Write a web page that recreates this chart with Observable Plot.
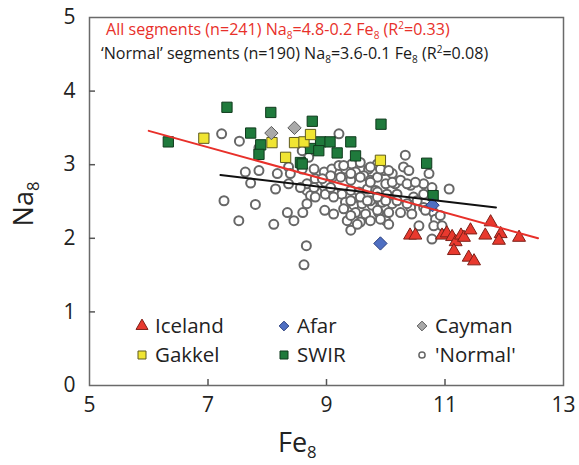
<!DOCTYPE html>
<html><head><meta charset="utf-8">
<script src="https://cdn.jsdelivr.net/npm/d3@7"></script>
<script src="https://cdn.jsdelivr.net/npm/@observablehq/plot@0.6"></script>
<style>
body{margin:0;background:#fff;}
#chart{width:579px;height:465px;}
</style></head><body><div id="chart"></div>
<script>
// ---- data ----
const icelandFe = [10.41,10.50,10.95,11.03,11.12,11.18,11.27,11.32,11.43,11.68,11.77,11.94,11.91,12.25,11.40,11.49,11.15];
const icelandNa = [2.04,2.04,2.04,2.07,2.02,1.95,2.04,2.01,2.11,2.04,2.22,2.06,1.97,2.01,1.74,1.69,1.83];
const afarFe = [9.91,10.79];
const afarNa = [1.93,2.45];
const caymanFe = [8.07,8.46];
const caymanNa = [3.43,3.50];
const gakkelFe = [6.93,8.08,8.46,8.62,8.73,8.31,9.91];
const gakkelNa = [3.36,3.30,3.30,3.31,3.41,3.10,3.06];
const swirFe = [6.33,7.32,8.06,7.72,8.76,7.89,7.86,8.56,8.90,9.06,8.73,8.87,9.18,9.92,9.41,9.49,10.69,10.80,8.59];
const swirNa = [3.31,3.78,3.71,3.43,3.59,3.27,3.14,3.03,3.31,3.31,3.22,3.19,3.16,3.55,3.31,3.12,3.02,2.58,3.01];
const normalFe = [7.23,7.53,7.63,7.86,7.72,7.27,7.80,7.52,8.11,8.34,8.45,8.60,8.97,8.66,8.62,8.14,8.36,8.17,8.36,8.39,
  7.86,9.21,8.59,8.70,8.59,8.79,8.96,9.09,9.21,9.32,9.43,9.57,9.71,9.86,9.49,9.63,9.10,9.24,8.81,8.98,
  9.41,9.74,9.86,8.67,8.73,8.84,8.98,9.12,9.26,9.41,9.55,9.69,9.83,9.32,9.46,9.60,9.77,9.49,9.66,9.35,
  9.57,9.74,9.41,10.33,10.30,10.39,9.97,10.11,9.74,10.00,10.16,10.42,10.64,10.73,11.07,9.86,10.02,10.19,10.47,10.64,
  9.74,9.94,10.11,10.42,10.64,10.81,9.88,10.44,10.56,10.84,10.81,10.00,10.78,8.67,8.79,9.07,8.81,9.12,9.74,9.91,
  10.05,9.29,8.56,9.57,9.41,9.07,8.93,10.11,10.25,10.36,10.50,10.78,8.67,9.12,9.29,9.41,9.57,9.69,9.86,10.00,
  10.19,10.36,10.53,10.67,10.92,10.95,10.25,10.05,9.91,9.52,10.05,9.86,9.41];
const normalNa = [3.42,3.32,2.90,2.92,2.75,2.51,2.46,2.24,2.19,2.35,2.24,2.35,2.38,1.90,1.64,2.67,2.74,2.88,2.97,2.88,
  3.23,3.42,3.19,3.10,2.94,2.94,2.90,2.94,2.99,2.94,3.01,3.03,2.94,3.01,2.90,2.85,2.83,2.83,2.81,2.76,
  2.79,2.79,2.83,2.65,2.58,2.63,2.60,2.63,2.60,2.65,2.63,2.67,2.65,2.49,2.45,2.47,2.45,2.35,2.33,2.24,
  2.22,2.24,2.11,3.13,2.97,2.92,2.92,2.88,2.76,2.74,2.74,2.72,2.74,2.88,2.67,2.63,2.60,2.60,2.56,2.60,
  2.51,2.49,2.47,2.42,2.42,2.35,2.35,2.33,2.17,2.26,2.17,2.24,1.99,2.74,2.69,2.69,2.56,2.56,2.97,2.94,
  2.92,2.99,2.69,2.83,2.88,2.85,2.81,2.76,2.79,2.74,2.76,2.69,2.47,2.33,2.40,2.51,2.56,2.51,2.56,2.51,
  2.51,2.47,2.51,2.38,2.31,2.17,2.35,2.35,2.26,2.19,2.19,2.38,2.31];
// regression line end points
const allLineFe = [6.0, 12.57];
const allLineNa = [3.46, 2.0];
const normalLineFe = [7.21, 11.86];
const normalLineNa = [2.86, 2.42];
// axis ticks
const xTickLabels = [5,7,9,11,13];
const xTickMarks = [7,9,11];
const yTickLabels = [0,1,2,3,4,5];
const yTickMarks = [1,2,3,4];
const legendNames = ["Iceland","Afar","Cayman","Gakkel","SWIR","'Normal'"];

const rows = (fe, na) => fe.map((v, i) => ({fe: v, na: na[i]}));

const C = {
  iceland: {fill:"#e8392e", stroke:"#7d1f17"},
  afar: {fill:"#4f6fc2", stroke:"#2b3f7e"},
  cayman: {fill:"#a9a9a9", stroke:"#5a5a5a"},
  gakkel: {fill:"#f0e532", stroke:"#5e5a1e"},
  swir: {fill:"#1f7a3c", stroke:"#0f3a1c"},
  normal: {fill:"#ffffff", stroke:"#676767"}
};
const FONT = "'Open Sans', sans-serif";
const W = 579, H = 465, ML = 89, MR = 16, MT = 17, MB = 80;
const TICK = 6;

const plot = Plot.plot({
  width: W, height: H,
  marginLeft: ML, marginRight: MR, marginTop: MT, marginBottom: MB,
  style: {fontFamily: FONT, background: "#fff", color: "#222"},
  x: {domain: [5, 13], label: null},
  y: {domain: [0, 5], label: null},
  marks: [
    Plot.frame({stroke: "#6a6a6a", strokeWidth: 1.5}),
    Plot.axisX(xTickLabels, {tickSize: 0, tickPadding: 12, fontSize: 21, label: null, fill: "#222", tickFormat: d => String(d)}),
    Plot.axisY(yTickLabels, {tickSize: 0, tickPadding: 14, fontSize: 21, label: null, fill: "#222", tickFormat: d => String(d)}),
    Plot.tickX(xTickMarks, {x: d => d, insetTop: H - MT - MB - TICK, stroke: "#555", strokeWidth: 1.5}),
    Plot.tickY(yTickMarks, {y: d => d, insetRight: W - ML - MR - TICK, stroke: "#555", strokeWidth: 1.5}),
    Plot.dot(rows(normalFe, normalNa), {x: "fe", y: "na", r: 4.5, fill: C.normal.fill, stroke: C.normal.stroke, strokeWidth: 2}),
    Plot.dot(rows(swirFe, swirNa), {x: "fe", y: "na", symbol: "square", r: 5.8, fill: C.swir.fill, stroke: C.swir.stroke, strokeWidth: 1}),
    Plot.dot(rows(gakkelFe, gakkelNa), {x: "fe", y: "na", symbol: "square", r: 5.8, fill: C.gakkel.fill, stroke: C.gakkel.stroke, strokeWidth: 1}),
    Plot.dot(rows(caymanFe, caymanNa), {x: "fe", y: "na", symbol: "diamond2", r: 6, fill: C.cayman.fill, stroke: C.cayman.stroke, strokeWidth: 1}),
    Plot.dot(rows(afarFe, afarNa), {x: "fe", y: "na", symbol: "diamond2", r: 6, fill: C.afar.fill, stroke: C.afar.stroke, strokeWidth: 1}),
    Plot.dot(rows(icelandFe, icelandNa), {x: "fe", y: "na", symbol: "triangle", r: 4.8, fill: C.iceland.fill, stroke: C.iceland.stroke, strokeWidth: 1}),
    Plot.line(rows(normalLineFe, normalLineNa), {x: "fe", y: "na", stroke: "#111", strokeWidth: 2}),
    Plot.line(rows(allLineFe, allLineNa), {x: "fe", y: "na", stroke: "#e8302a", strokeWidth: 2})
  ]
});
document.getElementById("chart").appendChild(plot);

const svg = d3.select(plot);

function rich(sel, parts, size, subK = 0.3) {
  let shift = 0;
  parts.forEach(([t, k]) => {
    const target = k === "sub" ? size * subK : k === "sup" ? -size * 0.38 : 0;
    const ts = sel.append("tspan").attr("dy", (target - shift).toFixed(2)).text(t);
    if (k) ts.attr("font-size", (size * 0.62).toFixed(1));
    shift = target;
  });
}

// annotation lines
const AF = 16.1;
const ann1 = svg.append("text").attr("x", 106).attr("y", 35).attr("font-size", AF)
  .attr("text-anchor", "start").attr("fill", "#e8302a").attr("font-family", FONT);
rich(ann1, [["All segments (n=241) Na"], ["8","sub"], ["=4.8-0.2 Fe"], ["8","sub"], [" (R"], ["2","sup"], ["=0.33)"]], AF, 0.26);
const ann2 = svg.append("text").attr("x", 101).attr("y", 59).attr("font-size", AF)
  .attr("text-anchor", "start").attr("fill", "#1a1a1a").attr("font-family", FONT);
rich(ann2, [["\u2018Normal\u2019 segments (n=190) Na"], ["8","sub"], ["=3.6-0.1 Fe"], ["8","sub"], [" (R"], ["2","sup"], ["=0.08)"]], AF, 0.26);

// axis titles
const xt = svg.append("text").attr("x", 278).attr("y", 452).attr("font-size", 27)
  .attr("text-anchor", "start").attr("fill", "#222").attr("font-family", FONT);
rich(xt, [["Fe"], ["8","sub"]], 27, 0.22);
const yt = svg.append("text").attr("transform", "translate(33,204) rotate(-90)").attr("text-anchor", "middle")
  .attr("font-size", 27).attr("fill", "#222").attr("font-family", FONT);
rich(yt, [["Na"], ["8","sub"]], 27, 0.22);

// legend
const legendStyle = [
  {sym: d3.symbolTriangle, size: 62, c: C.iceland, sw: 1},
  {sym: d3.symbolDiamond2, size: 60, c: C.afar, sw: 1},
  {sym: d3.symbolDiamond2, size: 60, c: C.cayman, sw: 1},
  {sym: d3.symbolSquare, size: 64, c: C.gakkel, sw: 1},
  {sym: d3.symbolSquare, size: 64, c: C.swir, sw: 1},
  {sym: d3.symbolCircle, size: 30, c: C.normal, sw: 1.5}
];
const colX = [142, 284, 422];
const rowY = [326, 355];
legendNames.forEach((name, i) => {
  const cx = colX[i % 3], cy = rowY[Math.floor(i / 3)];
  const s = legendStyle[i];
  svg.append("path").attr("d", d3.symbol(s.sym, s.size)())
    .attr("transform", `translate(${cx},${cy})`)
    .attr("fill", s.c.fill).attr("stroke", s.c.stroke).attr("stroke-width", s.sw);
  svg.append("text").attr("x", cx + 13).attr("y", cy).attr("dy", "0.36em")
    .attr("text-anchor", "start")
    .attr("font-size", 20.5).attr("font-family", FONT).attr("fill", "#222").text(name);
});
</script>
</body></html>
